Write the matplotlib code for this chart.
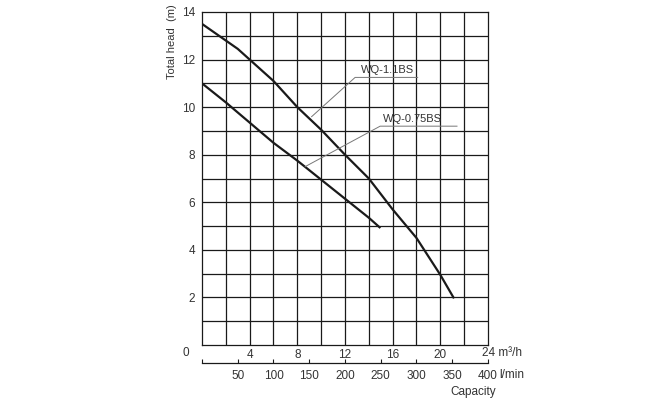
"""Pump performance curves: total head vs capacity."""

import matplotlib.pyplot as plt
import numpy as np

plt.rcParams["font.family"] = ["Liberation Sans", "DejaVu Sans"]

# capacity (m3/h) and head (m)
q_11 = [0, 3, 6, 8, 10, 12, 14, 16, 18, 20, 21.1]
h_11 = [13.5, 12.45, 11.1, 10.0, 9.05, 8.0, 7.0, 5.7, 4.5, 2.95, 2.0]
q_075 = [0, 2, 4, 6, 8, 10, 12, 14, 14.9]
h_075 = [11.0, 10.2, 9.35, 8.5, 7.75, 6.95, 6.15, 5.35, 4.95]

x_ticks = [4, 8, 12, 16, 20, 24]
y_ticks = [2, 4, 6, 8, 10, 12, 14]
lmin_ticks = [50, 100, 150, 200, 250, 300, 350, 400]

ink = "#1a1a1a"
txt = "#333333"

fig = plt.figure(figsize=(6.68, 4.0), dpi=100)
ax = fig.add_axes([0.3024, 0.1375, 0.4281, 0.8325])
ax.set_xlim(0, 24)
ax.set_ylim(0, 14)

# grid
for x in np.arange(2, 24, 2):
    ax.axvline(x, color=ink, lw=0.9, zorder=1)
for y in np.arange(1, 14, 1):
    ax.axhline(y, color=ink, lw=0.9, zorder=1)
for s in ax.spines.values():
    s.set_color(ink)
    s.set_linewidth(0.9)

ax.plot(q_11, h_11, color=ink, lw=1.6, zorder=3)
ax.plot(q_075, h_075, color=ink, lw=1.6, zorder=3)

# labels with leader lines
lead = "#777777"
ax.plot([9.2, 12.85, 18.1], [9.6, 11.25, 11.25], color=lead, lw=0.7, zorder=4)
ax.text(13.3, 11.35, "WQ-1.1BS", fontsize=8, color=txt, va="bottom")
ax.plot([8.66, 14.95, 21.4], [7.5, 9.2, 9.2], color=lead, lw=0.7, zorder=4)
ax.text(15.2, 9.3, "WQ-0.75BS", fontsize=8, color=txt, va="bottom")

ax.set_xticks(x_ticks)
ax.set_xticklabels([str(t) for t in x_ticks[:-1]] + [""], fontsize=8.5,
                   color=txt)
ax.set_yticks(y_ticks)
ax.set_yticklabels([str(t) for t in y_ticks], fontsize=8.5, color=txt)
ax.tick_params(axis="both", length=0, pad=3)
ax.tick_params(axis="y", pad=5)

ax.text(-0.045, -0.025, "0", transform=ax.transAxes, fontsize=8.5,
        color=txt, ha="right", va="center")
ax.text(0.979, -0.025, "24 m³/h", transform=ax.transAxes, fontsize=8.5,
        color=txt, ha="left", va="center")
ax.text(-0.105, 0.91, "Total head  (m)", transform=ax.transAxes, fontsize=8,
        color=txt, rotation=90, ha="center", va="center")

# l/min scale below
sec = ax.secondary_xaxis(-0.054, functions=(lambda q: q * 1000 / 60,
                                            lambda l: l * 60 / 1000))
sec.set_xticks([0] + lmin_ticks)
sec.set_xticklabels([""] + [str(t) for t in lmin_ticks], fontsize=8.5,
                    color=txt)
sec.tick_params(direction="in", length=3, width=0.8, color=ink, pad=5)
sec.spines["bottom"].set_color(ink)
sec.spines["bottom"].set_linewidth(0.9)
fig.text(0.748, 0.062, "l/min", fontsize=8.5, color=txt,
         ha="left", va="center")
fig.text(0.708, 0.02, "Capacity", fontsize=8.5, color=txt,
         ha="center", va="center")

fig.savefig("out.png", dpi=100)
